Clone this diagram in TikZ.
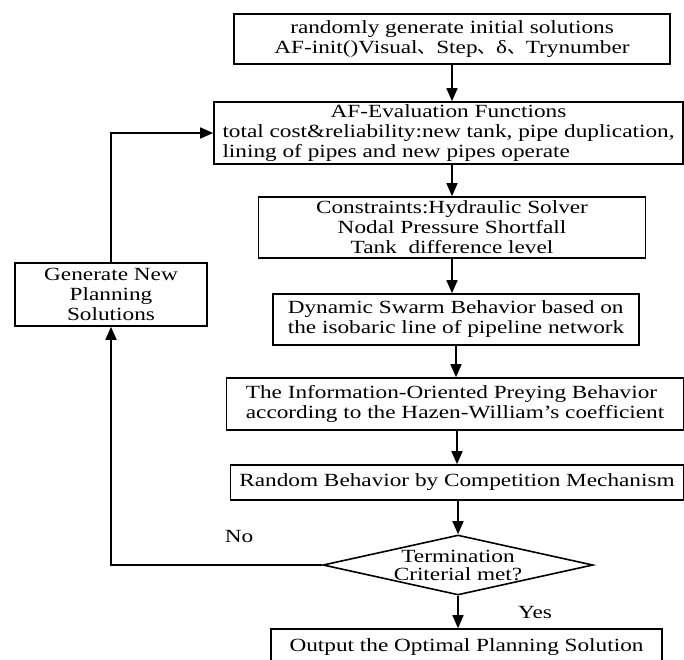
\documentclass[tikz,border=0pt]{standalone}
\usepackage{fontspec}
\setmainfont{Liberation Serif}[FakeStretch=1.25]
\newfontfamily\cjk{Noto Sans CJK SC}
\usetikzlibrary{shapes.geometric,arrows.meta}

\begin{document}
\begin{tikzpicture}[x=1pt, y=-1pt,
    every node/.style={font=\fontsize{18.6pt}{20pt}\selectfont},
    box/.style={draw, rectangle, line width=1.6pt, inner sep=0pt},
    decision/.style={draw, diamond, line width=1.6pt, inner sep=0pt, minimum width=270pt, minimum height=60pt},
    arr/.style={line width=1.6pt, -{Triangle[length=13pt,width=11pt]}}]
    \useasboundingbox (0,0) rectangle (684,659);

    \node[box, minimum width=436pt, minimum height=50pt, align=center] (init) at (452,39) {randomly generate initial solutions\\AF-init()Visual{\cjk 、}Step{\cjk 、}δ{\cjk 、}Trynumber};
    \node[box, minimum width=469pt, minimum height=62pt] (eval) at (448.5,133) {\begin{tabular}{@{}l@{}}\multicolumn{1}{@{}c@{}}{AF-Evaluation Functions}\\ total cost\&reliability:new tank, pipe duplication,\\ lining of pipes and new pipes operate\end{tabular}};
    \node[box, minimum width=387pt, minimum height=61pt, align=center] (cons) at (452,227.5) {Constraints:Hydraulic Solver\\Nodal Pressure Shortfall\\Tank~ difference level};
    \node[box, minimum width=366pt, minimum height=51pt, align=left] (swarm) at (456,319.5) {Dynamic Swarm Behavior based on\\the isobaric line of pipeline network};
    \node[box, minimum width=457pt, minimum height=52pt, align=left] (prey) at (455,404) {The Information-Oriented Preying Behavior\\according to the Hazen-William’s coefficient};
    \node[box, minimum width=453pt, minimum height=35pt] (rand) at (457,482.5) {Random Behavior by Competition Mechanism};
    \node[decision, label={[align=center, font=\fontsize{18.6pt}{18pt}\selectfont]center:Termination\\Criterial met?}] (term) at (458,565) {};
    \node[box, minimum width=391pt, minimum height=36pt] (out) at (466.5,647) {Output the Optimal Planning Solution};
    \node[box, minimum width=192pt, minimum height=63pt, align=center] (gen) at (111,294.5) {Generate New\\Planning\\Solutions};
    \node (no) at (239,536) {No};
    \node (yes) at (535,612) {Yes};

    \draw[arr] (init) -- (init |- eval.north);
    \draw[arr] (cons |- eval.south) -- (cons);
    \draw[arr] (cons) -- (cons |- swarm.north);
    \draw[arr] (swarm) -- (swarm |- prey.north);
    \draw[arr] (rand |- prey.south) -- (rand);
    \draw[arr] (term |- rand.south) -- (term);
    \draw[arr] (term) -- (term |- out.north);
    \draw[arr] (term.west) -| (gen.south);
    \draw[arr] (gen.north) |- (eval.west);
\end{tikzpicture}
\end{document}
